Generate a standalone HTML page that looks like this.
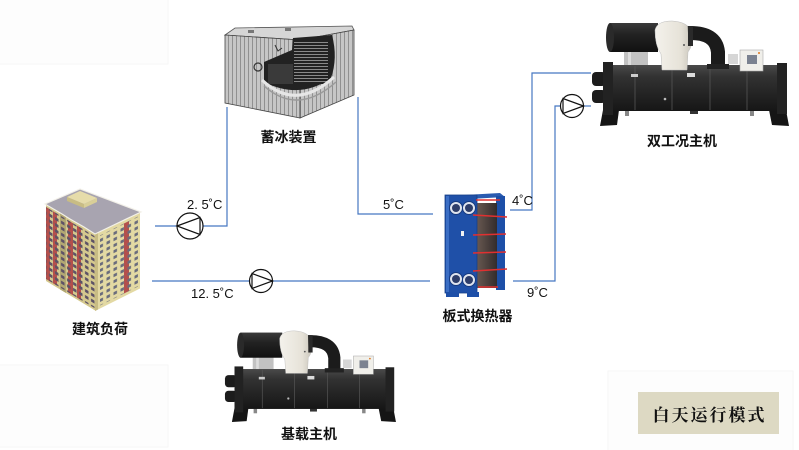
<!DOCTYPE html>
<html><head><meta charset="utf-8"><style>
html,body{margin:0;padding:0;background:#fff;}
svg{display:block;}
.t{font-family:"Liberation Sans",sans-serif;font-size:13px;fill:#111;}
.c{font-family:"Liberation Sans","Noto Sans CJK SC",sans-serif;font-size:14px;font-weight:bold;fill:#111;}
.m{font-family:"Liberation Serif","Noto Serif CJK SC",serif;font-size:17px;font-weight:bold;fill:#111;letter-spacing:2px;}
</style></head><body>
<svg width="799" height="450" viewBox="0 0 799 450" xmlns="http://www.w3.org/2000/svg">
<defs>
 <linearGradient id="barrel" x1="0" y1="0" x2="0" y2="1">
  <stop offset="0" stop-color="#4a4a4a"/><stop offset="0.25" stop-color="#323232"/><stop offset="1" stop-color="#161616"/>
 </linearGradient>
 <linearGradient id="motor" x1="0" y1="0" x2="0" y2="1">
  <stop offset="0" stop-color="#3a3a3a"/><stop offset="0.4" stop-color="#222"/><stop offset="1" stop-color="#111"/>
 </linearGradient>
 <linearGradient id="white" x1="0" y1="0" x2="1" y2="0">
  <stop offset="0" stop-color="#f4f2ec"/><stop offset="0.7" stop-color="#e6e2d8"/><stop offset="1" stop-color="#c8c4ba"/>
 </linearGradient>
 <linearGradient id="pack" x1="0" y1="0" x2="1" y2="0">
  <stop offset="0" stop-color="#6a5a52"/><stop offset="1" stop-color="#332c2c"/>
 </linearGradient>
 <pattern id="stripe" width="4" height="10" patternUnits="userSpaceOnUse">
  <rect width="4" height="10" fill="#c6c6c6"/><rect width="1" height="10" fill="#909090"/>
 </pattern>
 <pattern id="grid" width="4" height="3" patternUnits="userSpaceOnUse">
  <rect width="4" height="3" fill="#222"/><rect width="4" height="1" fill="#8a8a8a"/>
 </pattern>
 <pattern id="winL" width="6" height="6" patternUnits="userSpaceOnUse">
  <rect x="1" y="1.5" width="3.5" height="3" fill="#5d5266"/>
 </pattern>
 <pattern id="winR" width="7" height="6" patternUnits="userSpaceOnUse">
  <rect x="1.5" y="1.5" width="3.5" height="3" fill="#6a6c7c"/>
 </pattern>
 <g id="chiller">
  <polygon points="603,110 619,110 617,125 600,126" fill="#151515"/>
  <polygon points="769,110 786,110 789,126 772,125" fill="#151515"/>
  <rect x="625" y="108" width="4" height="8" fill="#888"/>
  <rect x="750" y="108" width="4" height="8" fill="#888"/>
  <rect x="690" y="108" width="8" height="6" fill="#333"/>
  <rect x="592" y="72" width="14" height="14" rx="4" fill="#1c1c1c"/>
  <rect x="592" y="90" width="14" height="13" rx="4" fill="#1c1c1c"/>
  <rect x="608" y="65" width="172" height="46" fill="url(#barrel)"/>
  <rect x="603" y="62" width="10" height="53" fill="#222"/>
  <rect x="777" y="63" width="10" height="51" fill="#222"/>
  <g stroke="#555" stroke-width="0.8">
   <line x1="635" y1="66" x2="635" y2="110"/><line x1="672" y1="66" x2="672" y2="110"/>
   <line x1="710" y1="66" x2="710" y2="110"/><line x1="747" y1="66" x2="747" y2="110"/>
  </g>
  <rect x="631" y="74" width="7" height="3" fill="#ccc"/>
  <rect x="687" y="73" width="8" height="4" fill="#ddd"/>
  <circle cx="665" cy="99" r="1.3" fill="#bbb"/>
  <rect x="624" y="50" width="24" height="15" fill="#9a9a9a" opacity="0.6"/>
  <rect x="628" y="46" width="3" height="19" fill="#ddd"/>
  <rect x="610" y="23" width="48" height="29" fill="url(#motor)"/>
  <ellipse cx="610" cy="37.5" rx="4" ry="14.5" fill="#2a2a2a"/>
  <path d="M655,30 Q657,21 672,21 Q690,22 692,34 Q693,46 688,52 L687,70 L662,70 L661,54 Q655,46 655,30 Z" fill="url(#white)" stroke="#bbb" stroke-width="0.5"/>
  <circle cx="684" cy="45" r="1" fill="#555"/>
  <path d="M688,33 Q716,32 718,52 L718,66" fill="none" stroke="#1b1b1b" stroke-width="14"/>
  <rect x="707" y="64" width="22" height="5" fill="#222"/>
  <rect x="688" y="26" width="5" height="20" fill="#2a2a2a"/>
  <rect x="740" y="50" width="23" height="21" fill="#f0efea" stroke="#aaa" stroke-width="0.6"/>
  <rect x="747" y="55" width="10" height="9" fill="#7b8290"/>
  <circle cx="759" cy="53" r="1" fill="#e07a20"/>
  <rect x="728" y="54" width="10" height="10" fill="#bbb" opacity="0.6"/>
 </g>
</defs>

<rect x="-1" y="-1" width="169" height="65" fill="#fdfdfd" stroke="#f6f6f6" stroke-width="1"/>
<rect x="-1" y="365" width="169" height="82" fill="#fdfdfd" stroke="#f6f6f6" stroke-width="1"/>
<rect x="608" y="371" width="185" height="82" fill="#fdfdfd" stroke="#f6f6f6" stroke-width="1"/>

<g fill="none" stroke="#4677c2" stroke-width="1.2">
 <polyline points="155,226 177,226"/>
 <polyline points="203,226 227,226 227,107"/>
 <polyline points="358,97 358,214 433,214"/>
 <polyline points="152,281 249.5,281"/>
 <polyline points="272.5,281 430,281"/>
 <polyline points="510,210 532,210 532,73 591,73"/>
 <polyline points="513,281 555,281 555,106 560.5,106"/>
 <polyline points="583.5,106 591,106"/>
</g>

<g fill="#fff" stroke="#111" stroke-width="1.2">
 <circle cx="190" cy="226" r="13"/>
 <polygon points="177,226 200,217.5 200,234.5" fill="none"/>
 <circle cx="261" cy="281" r="11.5"/>
 <polygon points="272.5,281 252,273.5 252,288.5" fill="none"/>
 <circle cx="572" cy="106" r="11.5"/>
 <polygon points="583.5,106 563,98.5 563,113.5" fill="none"/>
</g>

<text class="t" x="187" y="209">2. 5˚C</text>
<text class="t" x="383" y="209">5˚C</text>
<text class="t" x="512" y="205">4˚C</text>
<text class="t" x="191" y="298">12. 5˚C</text>
<text class="t" x="527" y="297">9˚C</text>

<g>
 <polygon points="225,35 235,28 352,26 354,30 300,40" fill="#d6d6d6" stroke="#555" stroke-width="0.8"/>
 <polygon points="225,35 300,40 300,118 225,103" fill="url(#stripe)" stroke="#444" stroke-width="0.8"/>
 <polygon points="300,40 354,30 354,95 300,118" fill="url(#stripe)" stroke="#444" stroke-width="0.8"/>
 <path d="M264,62 L292,50 L293,38 L332,35 Q338,58 331,78 Q300,100 264,82 Z" fill="#222"/>
 <rect x="294" y="40" width="34" height="44" fill="url(#grid)"/>
 <rect x="268" y="64" width="25" height="20" fill="#3a3a3a"/>
 <path d="M262,80 Q296,112 334,77" fill="none" stroke="#e6e6e6" stroke-width="3"/>
 <path d="M264,86 Q298,116 336,82" fill="none" stroke="#9a9a9a" stroke-width="1.5"/>
 <circle cx="258" cy="67" r="4" fill="none" stroke="#333" stroke-width="1.2"/>
 <path d="M275,45 l3,6 l4,-3" fill="none" stroke="#333" stroke-width="1"/>
 <rect x="248" y="30" width="6" height="3" fill="#777"/>
 <rect x="285" y="28" width="6" height="3" fill="#777"/>
</g>
<text class="c" x="288.5" y="142" text-anchor="middle">蓄冰装置</text>

<use href="#chiller"/>
<text class="c" x="682" y="146" text-anchor="middle">双工况主机</text>
<use href="#chiller" transform="matrix(0.868,0,0,0.868,-288.9,312.6)"/>
<text class="c" x="309" y="439" text-anchor="middle">基载主机</text>

<g>
 <g transform="matrix(1,0.6,0,1,0,-27.6)">
  <rect x="46" y="204" width="49" height="77" fill="#d5c98e"/>
  <rect x="46" y="207" width="4" height="72" fill="#b4504c"/>
  <rect x="53" y="207" width="4" height="72" fill="#b4504c"/>
  <rect x="60" y="204" width="6" height="77" fill="#b3a873"/>
  <rect x="68" y="207" width="5" height="72" fill="#b4504c"/>
  <rect x="77" y="207" width="4" height="72" fill="#b4504c"/>
  <rect x="46" y="207" width="49" height="72" fill="url(#winL)"/>
 </g>
 <g transform="matrix(1,-0.5,0,1,0,47.5)">
  <rect x="95" y="234" width="45" height="77" fill="#e3d9a3"/>
  <rect x="95" y="234" width="3" height="77" fill="#c8bc84"/>
  <rect x="124" y="238" width="5" height="70" fill="#b4504c"/>
  <rect x="100" y="238" width="38" height="70" fill="url(#winR)"/>
 </g>
 <polygon points="45,204 80,189 141,212 95,234 84,227 70,219 62,214" fill="#a8a4b0" stroke="#f2f0e8" stroke-width="1.2"/>
 <polygon points="67,197 80,191 97,198 84,204" fill="#e6dcaa"/>
 <polygon points="67,197 84,204 84,208 67,201" fill="#c8bc84"/>
 <polygon points="84,204 97,198 97,202 84,208" fill="#d9cf98"/>
</g>
<text class="c" x="100" y="334" text-anchor="middle">建筑负荷</text>

<g>
 <polygon points="447,196 500,193 505,197 452,200" fill="#2a5bb0"/>
 <rect x="496" y="196" width="9" height="94" fill="#1d4fa8"/>
 <rect x="476" y="203" width="21" height="85" fill="url(#pack)"/>
 <rect x="445" y="195" width="32" height="98" fill="#1f50a8" stroke="#163f88" stroke-width="0.8"/>
 <rect x="446" y="196" width="3" height="96" fill="#3b6ec4"/>
 <g fill="#dfe4ee" stroke="#163a80" stroke-width="1">
  <circle cx="456" cy="208" r="6.5"/><circle cx="469" cy="208" r="6.5"/>
  <circle cx="456" cy="279" r="6.5"/><circle cx="469" cy="280" r="6.5"/>
 </g>
 <g fill="#2d3d6a">
  <circle cx="456" cy="208" r="4"/><circle cx="469" cy="208" r="4"/>
  <circle cx="456" cy="279" r="4"/><circle cx="469" cy="280" r="4"/>
 </g>
 <rect x="461" y="231" width="3" height="5" fill="#f2f2f2"/>
 <g stroke="#e03030" stroke-width="1.5">
  <line x1="473" y1="215" x2="507" y2="217"/>
  <line x1="473" y1="235" x2="506" y2="234"/>
  <line x1="473" y1="253" x2="506" y2="252"/>
  <line x1="473" y1="271" x2="507" y2="269"/>
  <line x1="476" y1="200" x2="500" y2="200"/>
  <line x1="478" y1="287" x2="498" y2="287"/>
 </g>
 <rect x="446" y="292" width="13" height="5" fill="#1d4fa8"/>
 <rect x="467" y="292" width="12" height="5" fill="#1d4fa8"/>
</g>
<text class="c" x="477.5" y="321" text-anchor="middle">板式换热器</text>

<rect x="638" y="392" width="141" height="42" fill="#ddd9c3"/>
<text class="m" x="709.5" y="421" text-anchor="middle">白天运行模式</text>
</svg>
</body></html>
